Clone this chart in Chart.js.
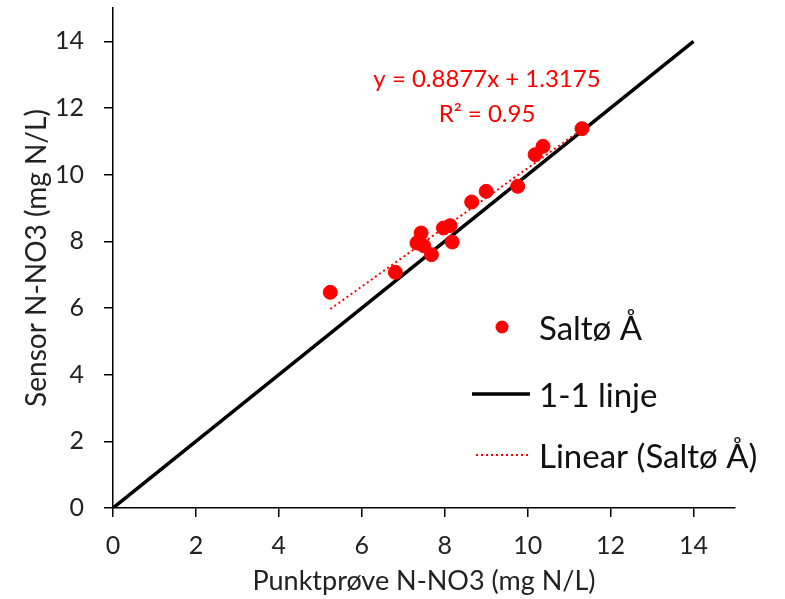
<!DOCTYPE html>
<html>
<head>
<meta charset="utf-8">
<script src="https://cdn.jsdelivr.net/npm/chart.js@4/dist/chart.umd.min.js"></script>
<style>
  html, body { margin: 0; padding: 0; background: #fff; }
  #wrap { width: 785px; height: 599px; position: relative; }
</style>
</head>
<body>
<div id="wrap"><canvas id="scatterChart"></canvas></div>
<script>
// values
const punktprove = [5.24, 6.81, 7.33, 7.43, 7.49, 7.68, 7.97, 8.13, 8.18, 8.65, 9.00, 9.76, 10.18, 10.37, 11.31];
const sensor     = [6.47, 7.07, 7.95, 8.25, 7.87, 7.60, 8.40, 8.47, 7.98, 9.18, 9.50, 9.65, 10.60, 10.85, 11.38];
const oneToOne   = [0, 14];
const tickValues = [0, 2, 4, 6, 8, 10, 12, 14];
const slope = 0.8877;
const intercept = 1.3175;
const r2 = "0.95";
const seriesNames = ["Saltø Å", "1-1 linje", "Linear (Saltø Å)"];

const FONT = "Lato, 'Open Sans', sans-serif";
const RED = "#ff0000";

const points = punktprove.map((x, i) => ({ x: x, y: sensor[i] }));
const xMin = Math.min(...punktprove), xMax = Math.max(...punktprove);
const trend = [xMin, xMax].map(x => ({ x: x, y: slope * x + intercept }));
const diag = oneToOne.map(v => ({ x: v, y: v }));

// equation text + legend drawn inside the plot area, like Excel does
const overlay = {
  id: "overlay",
  afterDatasetsDraw(chart) {
    const ctx = chart.ctx;
    ctx.save();
    ctx.fillStyle = RED;
    ctx.font = "24px " + FONT;
    ctx.textAlign = "center";
    ctx.textBaseline = "middle";
    ctx.fillText("y = " + slope + "x + " + intercept, 487, 79);
    ctx.fillText("R² = " + r2, 487, 114);

    const rows = [327, 394, 455];
    // row 1: marker
    ctx.beginPath();
    ctx.fillStyle = RED;
    ctx.arc(502, rows[0], 6.5, 0, Math.PI * 2);
    ctx.fill();
    // row 2: solid line
    ctx.strokeStyle = "#000";
    ctx.lineWidth = 3.5;
    ctx.beginPath();
    ctx.moveTo(472, rows[1]); ctx.lineTo(530, rows[1]);
    ctx.stroke();
    // row 3: dotted line
    ctx.strokeStyle = RED;
    ctx.lineWidth = 2;
    ctx.setLineDash([2, 3]);
    ctx.beginPath();
    ctx.moveTo(476, rows[2]); ctx.lineTo(528, rows[2]);
    ctx.stroke();
    ctx.setLineDash([]);

    ctx.textAlign = "left";
    ctx.font = "33px " + FONT;
    ctx.fillStyle = "#111";
    seriesNames.forEach((n, i) => ctx.fillText(n, 539, rows[i] + 2));
    ctx.restore();
  }
};

const axisCommon = {
  type: "linear",
  min: 0,
  max: 15,
  afterBuildTicks: (s) => { s.ticks = tickValues.map(v => ({ value: v })); },
  grid: { drawOnChartArea: false, tickLength: 9, color: "#000", lineWidth: 1.5 },
  border: { color: "#000", width: 1.5 },
};

new Chart(document.getElementById("scatterChart"), {
  type: "scatter",
  data: {
    datasets: [
      {
        label: seriesNames[0],
        data: points,
        backgroundColor: RED,
        borderColor: RED,
        pointRadius: 7,
        pointHoverRadius: 7,
        order: 1,
      },
      {
        label: seriesNames[1],
        data: diag,
        showLine: true,
        borderColor: "#000",
        borderWidth: 3.5,
        pointRadius: 0,
        order: 3,
      },
      {
        label: seriesNames[2],
        data: trend,
        showLine: true,
        borderColor: RED,
        borderWidth: 2,
        borderDash: [2, 3],
        pointRadius: 0,
        order: 2,
      },
    ],
  },
  options: {
    responsive: true,
    maintainAspectRatio: false,
    animation: false,
    layout: { padding: { top: 8, right: 50, left: 0, bottom: 0 } },
    plugins: { legend: { display: false }, tooltip: { enabled: false } },
    scales: {
      x: Object.assign({}, axisCommon, {
        position: "bottom",
        afterFit: (s) => { s.height = 91; s.paddingLeft = 0; s.paddingRight = 0; },
        ticks: { autoSkip: false, maxRotation: 0, color: "#222", font: { family: FONT, size: 25 }, padding: 14 },
        title: { display: true, text: "Punktprøve N-NO3 (mg N/L)", color: "#222", font: { family: FONT, size: 27 }, padding: { top: 0, bottom: 2 } },
      }),
      y: Object.assign({}, axisCommon, {
        afterFit: (s) => { s.width = 113; s.paddingTop = 0; s.paddingBottom = 0; },
        ticks: { autoSkip: false, color: "#222", font: { family: FONT, size: 25 }, padding: 20 },
        title: { display: true, text: "Sensor N-NO3 (mg N/L)", color: "#222", font: { family: FONT, size: 28 }, padding: { top: 20, bottom: 0 } },
      }),
    },
  },
  plugins: [overlay],
});
</script>
</body>
</html>
